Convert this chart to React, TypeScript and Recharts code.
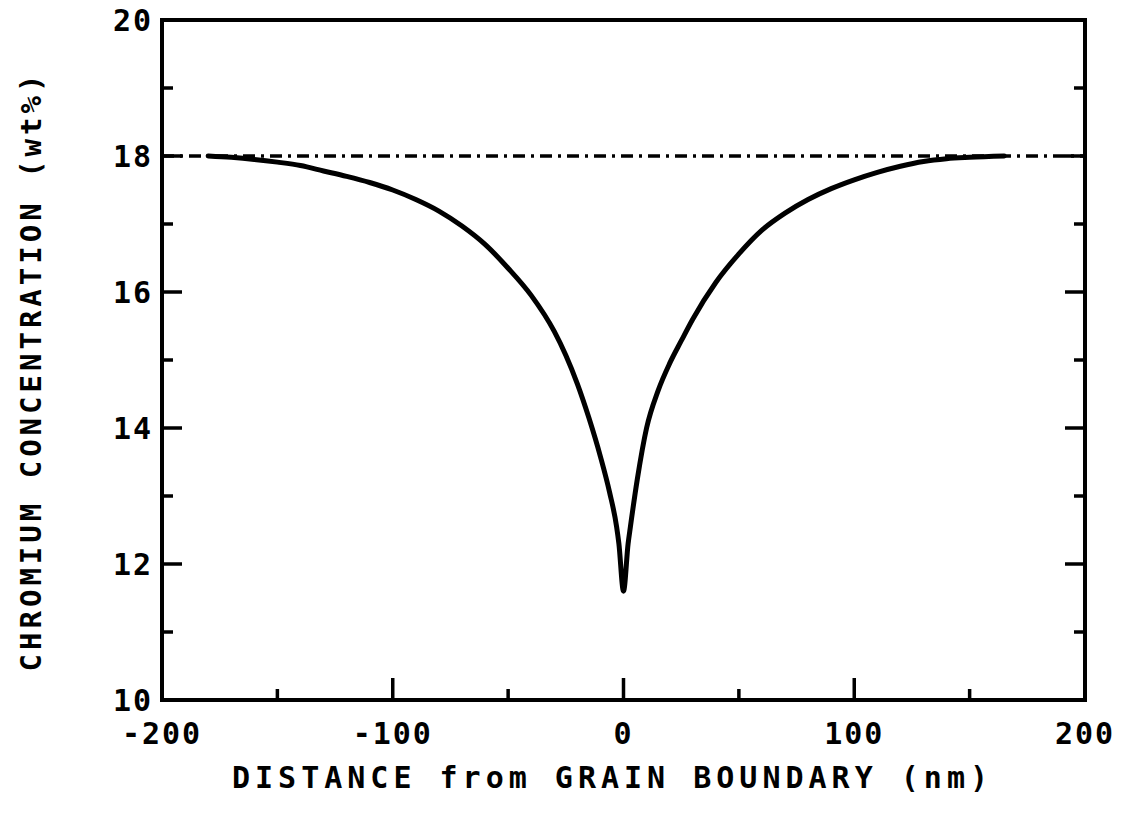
import React from 'react';
import { LineChart, Line, XAxis, YAxis, ReferenceLine } from 'recharts';

// Cr profile across the grain boundary (nm vs wt%)
const distanceNm = [
  -180, -170, -160, -150, -140, -130, -120, -110, -100, -90, -80, -70, -60, -50, -40, -30, -25, -20, -15, -10, -6, -3, -2, 0,
  2, 3, 6, 10, 15, 20, 25, 30, 40, 50, 60, 70, 80, 90, 100, 110, 120, 130, 140, 150, 165,
];
const chromiumWt = [
  18.0, 17.98, 17.95, 17.91, 17.86, 17.78, 17.7, 17.61, 17.5, 17.36, 17.19, 16.97, 16.7, 16.35, 15.95, 15.42, 15.07, 14.65, 14.15, 13.58, 13.05, 12.55, 12.3, 11.6,
  12.3, 12.55, 13.25, 14.0, 14.55, 14.95, 15.28, 15.6, 16.14, 16.56, 16.91, 17.16, 17.36, 17.52, 17.65, 17.76, 17.85, 17.92, 17.96, 17.98, 18.0,
];
const bulkLevel = 18;

const xTicks = [-200, -150, -100, -50, 0, 50, 100, 150, 200];
const yTicks = [10, 11, 12, 13, 14, 15, 16, 17, 18, 19, 20];

const data = distanceNm.map((d, i) => ({ d, cr: chromiumWt[i] }));

const FONT = "'DejaVu Sans Mono', monospace";
const textStyle = { fontFamily: FONT, fontWeight: 700, fontSize: 30, letterSpacing: 2, fill: '#000' };
const TICK_W = 3.5;

const isXMajor = (v: number) => v % 100 === 0;
const isXEdge = (v: number) => Math.abs(v) === 200;
const isYMajor = (v: number) => v % 2 === 0;
const isYEdge = (v: number) => v === 10 || v === 20;

const BottomTick = (props: any) => {
  const { x, y, payload } = props;
  const v = payload.value;
  return (
    <g>
      {!isXEdge(v) && (
        <line x1={x} x2={x} y1={y} y2={y - (isXMajor(v) ? 22 : 11)} stroke="#000" strokeWidth={TICK_W} />
      )}
      {isXMajor(v) && (
        <text x={x} y={y + 44} textAnchor="middle" style={textStyle}>{`${v}`}</text>
      )}
    </g>
  );
};

const TopTick = (props: any) => {
  const { x, y, payload } = props;
  const v = payload.value;
  if (isXEdge(v)) return <g />;
  return <line x1={x} x2={x} y1={y} y2={y + (isXMajor(v) ? 22 : 11)} stroke="#000" strokeWidth={TICK_W} />;
};

const LeftTick = (props: any) => {
  const { x, y, payload } = props;
  const v = payload.value;
  return (
    <g>
      {!isYEdge(v) && (
        <line x1={x} x2={x + (isYMajor(v) ? 20 : 11)} y1={y} y2={y} stroke="#000" strokeWidth={TICK_W} />
      )}
      {isYMajor(v) && (
        <text x={x - 9} y={y + 11} textAnchor="end" style={textStyle}>{`${v}`}</text>
      )}
    </g>
  );
};

const RightTick = (props: any) => {
  const { x, y, payload } = props;
  const v = payload.value;
  if (isYEdge(v)) return <g />;
  return <line x1={x} x2={x - (isYMajor(v) ? 20 : 11)} y1={y} y2={y} stroke="#000" strokeWidth={TICK_W} />;
};

const frameLine = { stroke: '#000', strokeWidth: 4, strokeLinecap: 'square' as const };

const XTitle = (props: any) => {
  const vb = props.viewBox;
  return (
    <text x={vb.x + vb.width / 2 - 11} y={vb.y + 88} textAnchor="middle" style={{ ...textStyle, letterSpacing: 5 }}>
      DISTANCE from GRAIN BOUNDARY (nm)
    </text>
  );
};

const YTitle = (props: any) => {
  const vb = props.viewBox;
  const cx = vb.x - 130;
  const cy = vb.y + vb.height / 2 + 11;
  return (
    <text
      x={cx}
      y={cy}
      transform={`rotate(-90, ${cx}, ${cy})`}
      textAnchor="middle"
      dominantBaseline="central"
      style={{ ...textStyle, fontSize: 29, letterSpacing: 4 }}
    >
      CHROMIUM CONCENTRATION (wt%)
    </text>
  );
};

const App: React.FC = () => {
  return (
    <div style={{ position: 'absolute', left: 0, top: 0, width: 1133, height: 822, background: '#fff' }}>
      <LineChart width={1133} height={822} data={data} margin={{ top: 19, right: 47, bottom: 121, left: 161 }}>
        <XAxis
          xAxisId="bottom"
          dataKey="d"
          type="number"
          domain={[-200, 200]}
          ticks={xTicks}
          interval={0}
          height={1}
          tickSize={0}
          tickMargin={0}
          axisLine={frameLine}
          tickLine={false}
          tick={BottomTick}
          label={{ content: XTitle }}
          allowDataOverflow
        />
        <XAxis
          xAxisId="top"
          orientation="top"
          type="number"
          domain={[-200, 200]}
          ticks={xTicks}
          interval={0}
          height={1}
          tickSize={0}
          tickMargin={0}
          axisLine={frameLine}
          tickLine={false}
          tick={TopTick}
          allowDataOverflow
        />
        <YAxis
          yAxisId="left"
          type="number"
          domain={[10, 20]}
          ticks={yTicks}
          interval={0}
          width={1}
          tickSize={0}
          tickMargin={0}
          axisLine={frameLine}
          tickLine={false}
          tick={LeftTick}
          label={{ content: YTitle }}
          allowDataOverflow
        />
        <YAxis
          yAxisId="right"
          orientation="right"
          type="number"
          domain={[10, 20]}
          ticks={yTicks}
          interval={0}
          width={1}
          tickSize={0}
          tickMargin={0}
          axisLine={frameLine}
          tickLine={false}
          tick={RightTick}
          allowDataOverflow
        />
        <ReferenceLine
          xAxisId="bottom"
          yAxisId="left"
          y={bulkLevel}
          stroke="#000"
          strokeWidth={3.5}
          strokeDasharray="12 6 3 6"
        />
        <Line
          xAxisId="bottom"
          yAxisId="left"
          type="monotone"
          dataKey="cr"
          stroke="#000"
          strokeWidth={5}
          strokeLinecap="round"
          strokeLinejoin="round"
          dot={false}
          activeDot={false}
          isAnimationActive={false}
        />
      </LineChart>
    </div>
  );
};

export default App;
